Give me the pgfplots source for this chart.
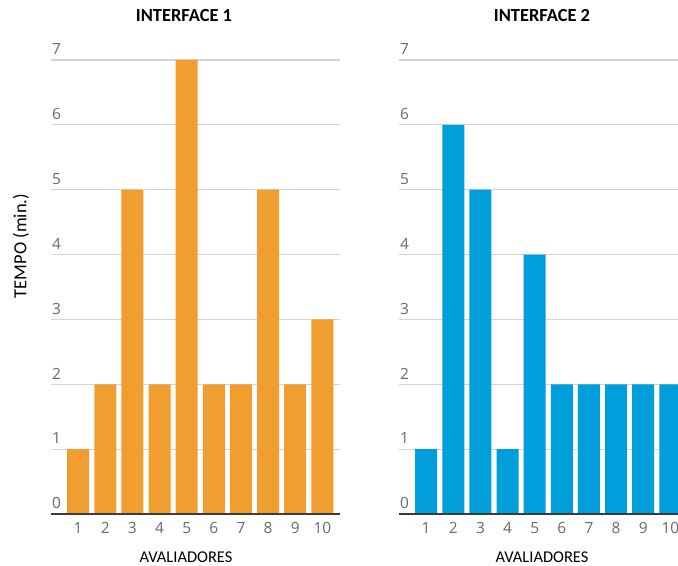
\documentclass[border=0pt]{standalone}
\usepackage{pgfplots}
\pgfplotsset{compat=1.18}
\usepackage{fontspec}
\setmainfont{Carlito}
\newfontfamily\tickfont{Open Sans}
\definecolor{orangebar}{RGB}{241,158,48}
\definecolor{bluebar}{RGB}{0,159,219}
\definecolor{gridc}{RGB}{212,212,212}
\definecolor{tickc}{RGB}{104,104,112}
\definecolor{basec}{RGB}{60,60,60}
\pgfplotsset{panel/.style={
  scale only axis, width=289bp, height=454bp,
  xmin=0, xmax=10.65, ymin=0, ymax=7,
  axis line style={draw=none},
  major tick length=0pt,
  xtick={1,...,10}, ytick={0,...,7},
  ymajorgrids, grid style={gridc, line width=1.2bp},
  ybar, bar width=22bp,
  /pgf/number format/assume math mode=true,
  yticklabel style={anchor=south west, inner sep=0pt, xshift=1bp, yshift=5bp,
    font=\tickfont\fontsize{15.5}{16}\selectfont, text=tickc},
  xticklabel style={anchor=north, inner sep=0pt, yshift=-8bp,
    font=\tickfont\fontsize{15.5}{16}\selectfont, text=tickc},
  clip=false,
}}
\begin{document}
\begin{tikzpicture}
\useasboundingbox (0bp,0bp) rectangle (678bp,566bp);
\clip (0bp,0bp) rectangle (678bp,566bp);
\begin{axis}[panel, at={(51bp,52bp)}, anchor=south west]
\addplot[fill=orangebar, draw=none] coordinates {(1,1) (2,2) (3,5) (4,2) (5,7) (6,2) (7,2) (8,5) (9,2) (10,3)};
\draw[basec, line width=2.2bp] (axis cs:0,0) -- (axis cs:10.65,0);
\end{axis}
\begin{axis}[panel, at={(399bp,52bp)}, anchor=south west]
\addplot[fill=bluebar, draw=none] coordinates {(1,1) (2,6) (3,5) (4,1) (5,4) (6,2) (7,2) (8,2) (9,2) (10,2)};
\draw[basec, line width=2.2bp] (axis cs:0,0) -- (axis cs:10.65,0);
\end{axis}
\node[font=\bfseries\fontsize{18.5}{20}\selectfont] at (184bp,550bp) {INTERFACE 1};
\node[font=\bfseries\fontsize{18.5}{20}\selectfont] at (542bp,550bp) {INTERFACE 2};
\node[font=\fontsize{16.5}{18}\selectfont, anchor=base, inner sep=0pt] at (186bp,4bp) {AVALIADORES};
\node[font=\fontsize{16.5}{18}\selectfont, anchor=base, inner sep=0pt] at (542bp,4bp) {AVALIADORES};
\node[font=\fontsize{18.5}{20}\selectfont, rotate=90] at (21bp,320bp) {TEMPO (min.)};
\end{tikzpicture}
\end{document}
